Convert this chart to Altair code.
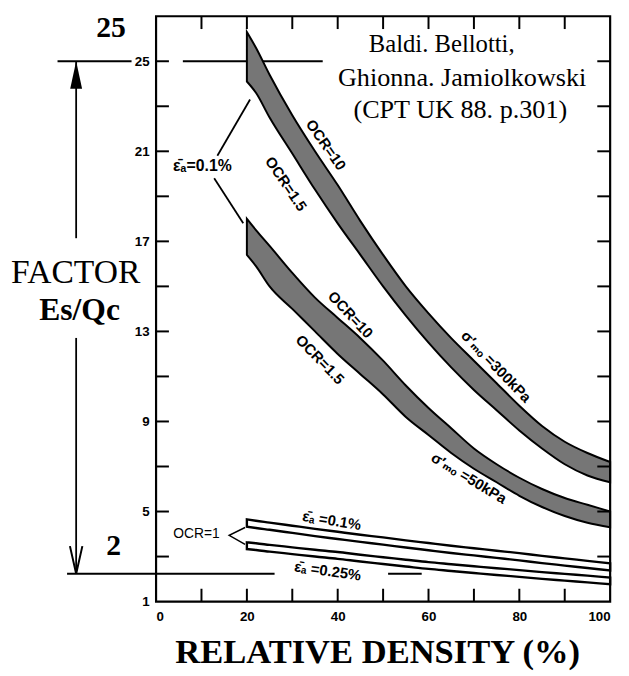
import altair as alt
import pandas as pd

# ---------------- data ----------------
relative_density = [20, 22, 25, 30, 35, 40, 45, 50, 55, 60, 65, 70, 75, 80, 85, 90, 95, 100]

# sigma'mo = 300 kPa band (epsilon_a = 0.1 %)
s300_ocr10 = [26.3, 25.6, 24.4, 22.6, 21.0, 19.5, 17.9, 16.4, 15.0, 13.8, 12.7, 11.7, 10.7, 9.7, 8.8, 8.1, 7.6, 7.2]
s300_ocr15 = [24.1, 23.6, 22.5, 20.9, 19.3, 17.8, 16.4, 15.0, 13.7, 12.5, 11.4, 10.4, 9.5, 8.6, 7.8, 7.1, 6.6, 6.3]
# sigma'mo = 50 kPa band (epsilon_a = 0.1 %)
s50_ocr10 = [18.0, 17.5, 16.8, 15.6, 14.5, 13.6, 12.7, 11.7, 10.6, 9.6, 8.7, 7.8, 7.1, 6.5, 6.0, 5.6, 5.3, 5.0]
s50_ocr15 = [16.4, 15.9, 15.0, 14.0, 13.0, 12.0, 11.1, 10.2, 9.2, 8.4, 7.6, 6.9, 6.3, 5.7, 5.2, 4.8, 4.5, 4.3]
# OCR = 1 bands
eps01_top = [4.65, 4.59, 4.51, 4.37, 4.23, 4.10, 3.97, 3.85, 3.72, 3.60, 3.48, 3.37, 3.26, 3.15, 3.03, 2.92, 2.81, 2.70]
eps01_bot = [4.33, 4.27, 4.19, 4.05, 3.91, 3.78, 3.65, 3.53, 3.40, 3.28, 3.16, 3.05, 2.94, 2.83, 2.71, 2.60, 2.49, 2.38]
eps025_top = [3.63, 3.59, 3.52, 3.41, 3.30, 3.20, 3.08, 2.97, 2.86, 2.75, 2.66, 2.57, 2.48, 2.40, 2.31, 2.23, 2.15, 2.07]
eps025_bot = [3.33, 3.29, 3.22, 3.11, 3.00, 2.90, 2.78, 2.67, 2.56, 2.45, 2.36, 2.27, 2.18, 2.10, 2.01, 1.93, 1.85, 1.77]

x_labels = [0, 20, 40, 60, 80, 100]
y_labels = [1, 5, 9, 13, 17, 21, 25]
x_ticks = [10, 20, 30, 40, 50, 60, 70, 80, 90]
y_ticks = [3, 5, 7, 9, 11, 13, 15, 17, 19, 21, 23, 25]

# reference lines of the annotation (value 25 and value 2)
ref_25 = 25.0
ref_2 = 2.24

# ---------------- scales / axes ----------------
X = alt.Scale(domain=[0, 100], nice=False, zero=False)
Y = alt.Scale(domain=[1, 27], nice=False, zero=False)
SANS = "Liberation Sans, DejaVu Sans, sans-serif"
SERIF = "Liberation Serif, serif"

x_axis = alt.Axis(values=x_labels, format="d", labelFont=SANS, labelFontWeight="bold",
                  labelFontSize=13.5, labelColor="black", labelPadding=8, tickSize=0,
                  domain=False, grid=False, title="RELATIVE DENSITY (%)",
                  titleFont=SERIF, titleFontSize=35, titleFontWeight="bold",
                  titleColor="black", titleBaseline="alphabetic", titleY=62, titleX=224)
y_axis = alt.Axis(values=y_labels, format="d", labelFont=SANS, labelFontWeight="bold",
                  labelFontSize=13.5, labelColor="black", labelPadding=7, tickSize=0,
                  domain=False, grid=False, title="")


def xq(f):
    return alt.X(f, type="quantitative", scale=X, axis=x_axis)


def yq(f):
    return alt.Y(f, type="quantitative", scale=Y, axis=y_axis)


def band_frame(name, lo, hi):
    return pd.DataFrame({"x": relative_density, "lo": lo, "hi": hi, "band": name})


shaded_df = pd.concat([
    band_frame("300kPa", s300_ocr15, s300_ocr10),
    band_frame("50kPa", s50_ocr15, s50_ocr10),
])
thin_df = pd.concat([
    band_frame("eps0.1", eps01_bot, eps01_top),
    band_frame("eps0.25", eps025_bot, eps025_top),
])

# horizontal reference lines (drawn beneath the bands)
hlines_df = pd.DataFrame({
    "x1": [-21.7, 5.9, -19.6, 51.1],
    "x2": [-5.4, 36.7, 26.1, 58.5],
    "y": [ref_25, ref_25, ref_2, ref_2],
})
hlines = alt.Chart(hlines_df).mark_rule(color="black", strokeWidth=2).encode(
    x=xq("x1"), x2="x2:Q", y=yq("y"))

shaded = alt.Chart(shaded_df).mark_area(
    interpolate="monotone", fill="#767676", stroke="black", strokeWidth=2, fillOpacity=1
).encode(x=xq("x"), y=yq("hi"), y2="lo:Q", detail="band:N")

thin = alt.Chart(thin_df).mark_area(
    interpolate="monotone", fill="white", stroke="black", strokeWidth=2.4, fillOpacity=1
).encode(x=xq("x"), y=yq("hi"), y2="lo:Q", detail="band:N")

# inward ticks on all four sides
tx = 2.83   # tick length in x units
ty = 0.57   # tick length in y units
ticks_df = pd.concat([
    pd.DataFrame({"x1": 0.0, "x2": tx, "y1": y_ticks, "y2": y_ticks}),
    pd.DataFrame({"x1": 100 - tx, "x2": 100.0, "y1": y_ticks, "y2": y_ticks}),
    pd.DataFrame({"x1": x_ticks, "x2": x_ticks, "y1": 1.0, "y2": 1 + ty}),
    pd.DataFrame({"x1": x_ticks, "x2": x_ticks, "y1": 27 - ty, "y2": 27.0}),
])
ticks = alt.Chart(ticks_df).mark_rule(color="black", strokeWidth=2).encode(
    x=xq("x1"), x2="x2:Q", y=yq("y1"), y2="y2:Q")

# plot frame
frame_df = pd.DataFrame({"x1": [0.0], "x2": [100.0], "y1": [1.0], "y2": [27.0]})
frame = alt.Chart(frame_df).mark_rect(fill=None, stroke="black", strokeWidth=2.2).encode(
    x=xq("x1"), x2="x2:Q", y=yq("y1"), y2="y2:Q")

# leader lines / arrow shaft
seg_df = pd.DataFrame({
    "x1": [13.5, 12.8, -17.6, -17.6],
    "y1": [20.8, 19.8, 25.0, 12.71],
    "x2": [20.7, 19.2, -17.6, -17.6],
    "y2": [23.3, 17.8, 17.14, ref_2],
})
segs = alt.Chart(seg_df).mark_rule(color="black", strokeWidth=1.8).encode(
    x=xq("x1"), x2="x2:Q", y=yq("y1"), y2="y2:Q")

bracket_df = pd.DataFrame({"x": [19.6, 16.1, 19.6], "y": [4.29, 3.94, 3.54], "o": [0, 1, 2]})
bracket = alt.Chart(bracket_df).mark_line(color="black", strokeWidth=1.5).encode(
    x=xq("x"), y=yq("y"), order="o:Q")

head_up = alt.Chart(pd.DataFrame({"x": [-17.6], "y": [24.39]})).mark_point(
    shape="M0,-1L-0.43,1L0.43,1Z", size=784, filled=True, color="black", opacity=1
).encode(x=xq("x"), y=yq("y"))
head_down = alt.Chart(pd.DataFrame({"x": [-17.6], "y": [2.85]})).mark_point(
    shape="M-0.45,-1L0,1L0.45,-1", size=784, filled=False, color="black", strokeWidth=2, opacity=1
).encode(x=xq("x"), y=yq("y"))


def label(text, x, y, size, font=SANS, weight="bold", angle=0, align="center",
          baseline="middle"):
    return alt.Chart(pd.DataFrame({"x": [x], "y": [y], "t": [text]})).mark_text(
        font=font, fontSize=size, fontWeight=weight, angle=angle, align=align,
        baseline=baseline, color="black"
    ).encode(x=xq("x"), y=yq("y"), text="t:N")


EPS = "\u03b5\u0304\u2090"
SIG = "\u03c3\u2032\u2098\u2092"

labels = [
    label("Baldi. Bellotti,", 62.9, 25.39, 25, font=SERIF, weight="normal", baseline="alphabetic"),
    label("Ghionna. Jamiolkowski", 67.4, 23.89, 26.5, font=SERIF, weight="normal", baseline="alphabetic"),
    label("(CPT UK 88. p.301)", 67.0, 22.49, 26.5, font=SERIF, weight="normal", baseline="alphabetic"),
    label("25", -9.9, 26.09, 30, font=SERIF, baseline="alphabetic"),
    label("2", -9.35, 3.06, 30, font=SERIF, baseline="alphabetic"),
    label("FACTOR", -17.7, 15.17, 34, font=SERIF, weight="normal", baseline="alphabetic"),
    label("Es/Qc", -16.85, 13.5, 32, font=SERIF, baseline="alphabetic"),
    label(EPS + "=0.1%", 10.2, 20.34, 16),
    label("OCR=10", 37.4, 21.28, 15, angle=55),
    label("OCR=1.5", 28.6, 19.55, 15, angle=56),
    label("OCR=10", 42.8, 13.74, 15, angle=47),
    label("OCR=1.5", 36.1, 11.75, 15, angle=46),
    label(SIG + " =300kPa", 74.9, 11.44, 15, angle=46),
    label(SIG + " =50kPa", 68.9, 6.48, 15, angle=31),
    label(EPS + " =0.1%", 38.7, 4.60, 15, angle=9),
    label(EPS + " =0.25%", 37.8, 2.36, 15, angle=8),
    label("OCR=1", 8.9, 3.98, 14, weight="normal"),
]

chart = alt.layer(hlines, shaded, thin, ticks, frame, segs, bracket, head_up, head_down, *labels).properties(
    width=460, height=593,
    background="white",
    autosize=alt.AutoSizeParams(type="none"),
    padding={"left": 150, "top": 4, "right": 11, "bottom": 66},
).configure_view(stroke=None)

chart.save("out.html", embed_options={"renderer": "svg", "actions": False})
